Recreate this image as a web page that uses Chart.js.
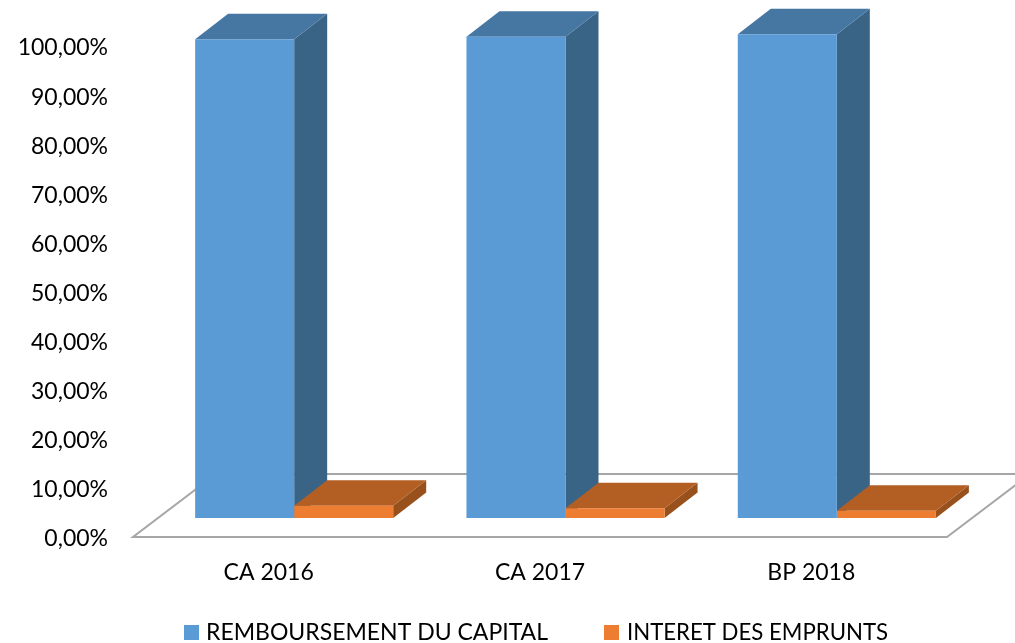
<!DOCTYPE html>
<html><head><meta charset="utf-8">
<style>html,body{margin:0;padding:0;background:#fff;overflow:hidden}canvas{display:block}</style>
<script src="https://cdn.jsdelivr.net/npm/chart.js@4"></script></head>
<body><canvas id="c" width="1015" height="643"></canvas>
<script>
const categories = ['CA 2016', 'CA 2017', 'BP 2018'];
const capitalValues = [97.5, 98, 98.5];
const interetValues = [2.5, 2, 1.5];
const seriesNames = ['REMBOURSEMENT DU CAPITAL', 'INTERET DES EMPRUNTS'];
const FONT = 'Lato';
const frontColors = ['#5B9BD5', '#ED7D31'];
const topColors = ['#4676A2', '#B35E22'];
const sideColors = ['#3A6486', '#98501D'];
const DEPTH_X = 33, DEPTH_Y = 25.5, SHIFT_X = 25.5, SHIFT_Y = -19;
const FLOOR_X = 83, FLOOR_Y = 63;

function poly(ctx, pts, fill) {
  ctx.beginPath();
  pts.forEach((p, i) => i ? ctx.lineTo(p[0], p[1]) : ctx.moveTo(p[0], p[1]));
  ctx.closePath();
  ctx.fillStyle = fill;
  ctx.fill();
}
const plugin3d = {
  id: 'plugin3d',
  beforeDatasetsDraw(chart) {
    const { ctx, chartArea: a } = chart;
    ctx.save();
    ctx.beginPath();
    ctx.moveTo(a.left, a.bottom);
    ctx.lineTo(a.right, a.bottom);
    ctx.lineTo(a.right + FLOOR_X, a.bottom - FLOOR_Y);
    ctx.lineTo(a.left + FLOOR_X, a.bottom - FLOOR_Y);
    ctx.closePath();
    ctx.strokeStyle = '#A6A6A6';
    ctx.lineWidth = 2;
    ctx.stroke();
    ctx.translate(SHIFT_X, SHIFT_Y);
    chart.data.datasets.forEach((d, i) => {
      chart.getDatasetMeta(i).data.forEach(el => {
        const p = el.getProps(['x', 'y', 'base', 'width'], true);
        const l = p.x - p.width / 2, r = p.x + p.width / 2;
        poly(ctx, [[r, p.y], [r + DEPTH_X, p.y - DEPTH_Y], [r + DEPTH_X, p.base - DEPTH_Y], [r, p.base]], sideColors[i]);
        poly(ctx, [[l, p.y], [l + DEPTH_X, p.y - DEPTH_Y], [r + DEPTH_X, p.y - DEPTH_Y], [r, p.y]], topColors[i]);
      });
    });
    ctx.restore();
  },
  beforeDatasetDraw(chart) {
    chart.ctx.save();
    chart.ctx.translate(SHIFT_X, SHIFT_Y);
  },
  afterDatasetDraw(chart) { chart.ctx.restore(); },
  afterDraw(chart) {
    const ctx = chart.ctx;
    const items = [[184, 206, 342], [604, 627, 261]];
    ctx.save();
    ctx.textBaseline = 'middle';
    ctx.textAlign = 'left';
    ctx.font = '24px ' + FONT;
    chart.data.datasets.forEach((d, i) => {
      ctx.fillStyle = d.backgroundColor;
      ctx.fillRect(items[i][0], 625, 15, 15);
      ctx.fillStyle = '#000';
      ctx.fillText(d.label, items[i][1], 632, items[i][2]);
    });
    ctx.restore();
  }
};
new Chart(document.getElementById('c'), {
  type: 'bar',
  data: {
    labels: categories,
    datasets: [
      { label: seriesNames[0], data: capitalValues, backgroundColor: frontColors[0], clip: false },
      { label: seriesNames[1], data: interetValues, backgroundColor: frontColors[1], clip: false }
    ]
  },
  options: {
    responsive: false,
    animation: false,
    layout: { padding: { top: 46, right: 68, bottom: 0, left: 0 } },
    datasets: { bar: { categoryPercentage: 0.73, barPercentage: 1 } },
    plugins: { legend: { display: false }, tooltip: { enabled: false }, title: { display: false } },
    scales: {
      x: {
        grid: { display: false, drawTicks: false },
        border: { display: false },
        ticks: { color: '#000', font: { family: FONT, size: 23 }, padding: 22, maxRotation: 0 },
        afterFit(s) { s.height = 106; }
      },
      y: {
        min: 0, max: 100,
        grid: { display: false, drawTicks: false },
        border: { display: false },
        ticks: {
          stepSize: 10, color: '#000', padding: 25, labelOffset: 2,
          font: { family: FONT, size: 23 },
          callback: v => v.toFixed(2).replace('.', ',') + '%'
        },
        afterFit(s) { s.width = 133; }
      }
    }
  },
  plugins: [plugin3d]
});
</script></body></html>
